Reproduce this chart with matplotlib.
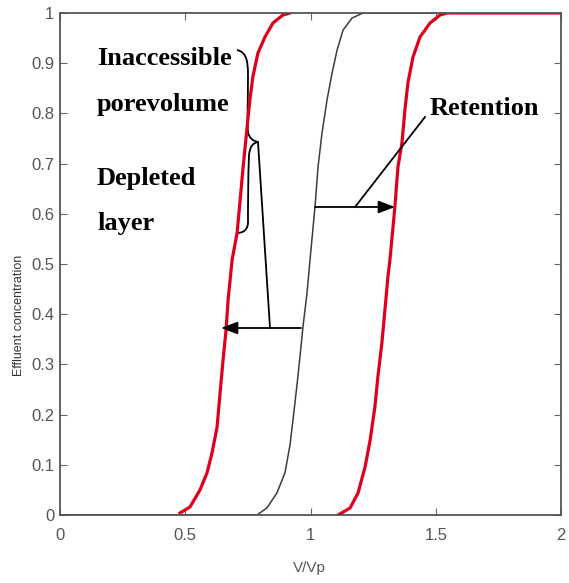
import matplotlib.pyplot as plt
from matplotlib.path import Path
from matplotlib.patches import PathPatch

# breakthrough curves (V/Vp, effluent concentration)
vvp_left = [0.479, 0.519, 0.559, 0.587, 0.607, 0.627, 0.639, 0.651, 0.663, 0.671, 0.687,
            0.707, 0.719, 0.731, 0.747, 0.758, 0.770, 0.790, 0.818, 0.850, 0.890, 0.918]
conc_left = [0.004, 0.016, 0.050, 0.084, 0.124, 0.175, 0.243, 0.309, 0.369, 0.428, 0.508,
             0.562, 0.627, 0.693, 0.773, 0.827, 0.873, 0.920, 0.952, 0.980, 0.996, 1.0]

vvp_mid = [0.0, 0.786, 0.826, 0.866, 0.898, 0.918, 0.930, 0.946, 0.958, 0.970, 0.986, 0.998,
           1.018, 1.030, 1.046, 1.066, 1.086, 1.106, 1.130, 1.166, 1.210, 2.0]
conc_mid = [0.0, 0.0, 0.014, 0.044, 0.084, 0.139, 0.189, 0.259, 0.315, 0.375, 0.442, 0.508,
            0.614, 0.693, 0.761, 0.827, 0.880, 0.926, 0.966, 0.990, 1.0, 1.0]

vvp_right = [1.110, 1.158, 1.190, 1.218, 1.238, 1.257, 1.269, 1.285, 1.297, 1.309, 1.317,
             1.337, 1.349, 1.365, 1.377, 1.389, 1.409, 1.437, 1.477, 1.517, 1.545, 2.0]
conc_right = [0.0, 0.014, 0.044, 0.096, 0.149, 0.215, 0.275, 0.343, 0.408, 0.474, 0.508,
              0.614, 0.693, 0.741, 0.807, 0.861, 0.912, 0.952, 0.980, 0.996, 1.0, 1.0]

xticks = [0, 0.5, 1, 1.5, 2]
xticklabels = ['0', '0.5', '1', '1.5', '2']
yticks = [0, 0.1, 0.2, 0.3, 0.4, 0.5, 0.6, 0.7, 0.8, 0.9, 1]
yticklabels = ['0', '0.1', '0.2', '0.3', '0.4', '0.5', '0.6', '0.7', '0.8', '0.9', '1']

W, H = 569, 583
fig = plt.figure(figsize=(W / 100, H / 100), dpi=100)
ax = fig.add_axes([60 / W, (H - 515) / H, 501 / W, 502 / H])

ax.plot(vvp_mid, conc_mid, color='#3c3c3c', lw=1.1)
ax.plot(vvp_left, conc_left, color='#e0001b', lw=2.3)
ax.plot(vvp_right, conc_right, color='#e0001b', lw=2.3)

ax.set_xlim(0, 2)
ax.set_ylim(0, 1)
ax.set_xticks(xticks)
ax.set_xticklabels(xticklabels)
ax.set_yticks(yticks)
ax.set_yticklabels(yticklabels)
ax.tick_params(direction='in', top=True, right=True, length=5, width=0.8,
               colors='#666666', labelsize=12, labelcolor='#555555')
ax.tick_params(axis='x', pad=9)
ax.tick_params(axis='y', pad=4)
for lab in ax.get_xticklabels() + ax.get_yticklabels():
    lab.set_family('Liberation Sans')
for s in ax.spines.values():
    s.set_color('#555555')
    s.set_linewidth(1.3)
ax.set_xlabel('V/Vp', fontsize=11, color='#555555', family='Liberation Sans')
ax.xaxis.set_label_coords((309 - 60) / 501, -(561 - 515) / 502)
ax.set_ylabel('Effluent concentration', fontsize=9, color='#333333', family='Liberation Sans')
ax.yaxis.set_label_coords((25 - 60) / 501, (515 - 315) / 502)


def px(x, y):
    # pixel position in the picture -> data coordinates
    return (x - 60) / 250.5, (515 - y) / 502.0


# text labels
bold = dict(family='Liberation Serif', fontweight='bold', fontsize=19, color='black',
            va='baseline', ha='left')
ax.text(*px(97, 65), 'Inaccessible', **bold)
ax.text(*px(97, 111), 'porevolume', **bold)
ax.text(*px(97, 185), 'Depleted', **bold)
ax.text(*px(97, 230), 'layer', **bold)
ax.text(*px(430, 115), 'Retention', **bold)

# curly brace
brace_px = [(237, 50), (246, 52), (248, 60), (248, 75),
            (248, 100), (247, 120), (248, 132),
            (249, 138), (253, 141), (258, 142),
            (253, 143), (250, 146), (249, 155),
            (248, 180), (248, 205), (248, 222),
            (248, 230), (243, 233), (237, 233)]
verts = [px(*p) for p in brace_px]
codes = [Path.MOVETO] + [Path.CURVE4] * 18
ax.add_patch(PathPatch(Path(verts, codes), fill=False, lw=1.3, color='black'))

arrow = dict(arrowstyle='-|>,head_length=1.0,head_width=0.38', color='black', lw=1.3,
             shrinkA=0, shrinkB=0)

# pointer from brace down to the shift arrow
ax.plot(*zip(px(258, 142), px(270, 328)), color='black', lw=1.3)
ax.annotate('', xy=px(221, 328), xytext=px(301, 328), arrowprops=arrow)

# retention pointer and arrow
ax.plot(*zip(px(425, 117), px(355, 207)), color='black', lw=1.3)
ax.annotate('', xy=px(395, 207), xytext=px(315, 207), arrowprops=arrow)

plt.savefig('out.png', dpi=100)
plt.close()
